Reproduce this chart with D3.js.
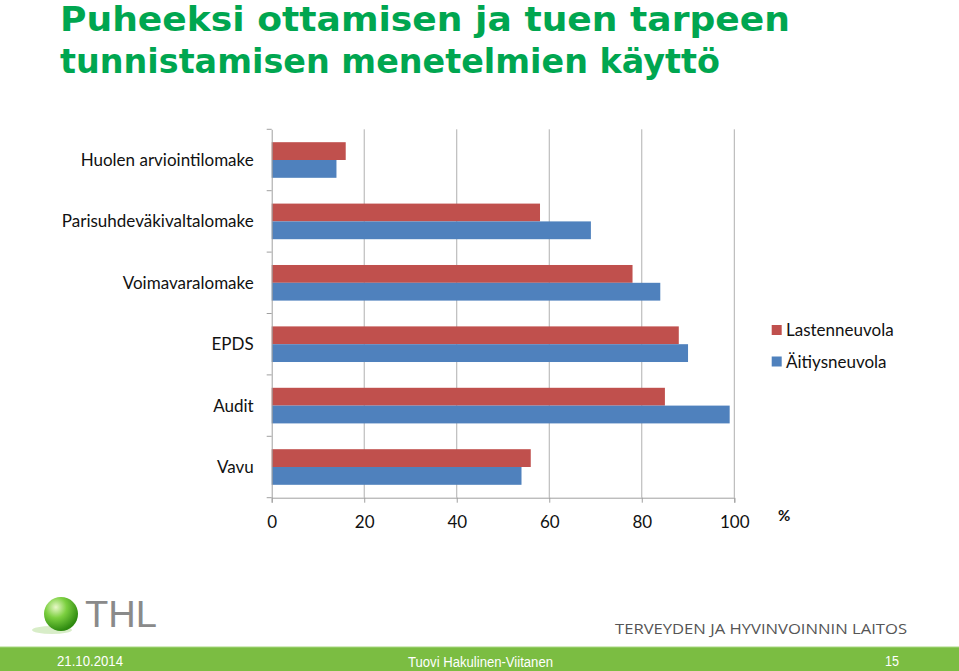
<!DOCTYPE html>
<html><head><meta charset="utf-8">
<script src="https://cdn.jsdelivr.net/npm/d3@7"></script>
<style>body{margin:0;background:#fff}svg{display:block}</style>
</head><body>
<script>
const categories = ["Huolen arviointilomake","Parisuhdeväkivaltalomake","Voimavaralomake","EPDS","Audit","Vavu"];
const seriesNames = ["Lastenneuvola","Äitiysneuvola"];
const lastenneuvola = [16,58,78,88,85,56];
const aitiysneuvola = [14,69,84,90,99,54];
const xTicks = [0,20,40,60,80,100];
const colors = ["#c0504d","#4f81bd"];
const titleLines = ["Puheeksi ottamisen ja tuen tarpeen","tunnistamisen menetelmien käyttö"];

const W=959,H=671;
const svg=d3.select("body").append("svg").attr("width",W).attr("height",H);
const font="Lato, 'Open Sans', sans-serif";

// title
svg.selectAll("text.title").data(titleLines).enter().append("text")
 .attr("x",60).attr("y",(d,i)=>31+i*42)
 .attr("font-family","'Comic Sans MS','DejaVu Sans',sans-serif").attr("font-weight","bold")
 .attr("font-size",33).attr("fill","#00a650")
 .attr("textLength",(d,i)=>i==0?730:660).attr("lengthAdjust","spacingAndGlyphs")
 .text(d=>d);

const x=d3.scaleLinear().domain([0,100]).range([271.7,734.3]);
const y=d3.scaleBand().domain(categories).range([129.3,497.7]).paddingInner(0.42).paddingOuter(0.21);
const y0=d3.scaleBand().domain(categories).range([129.3,497.7]);
const sub=d3.scaleBand().domain(seriesNames).range([0,y.bandwidth()]);

// gridlines
svg.append("g").selectAll("line").data(xTicks.slice(1)).enter().append("line")
 .attr("x1",d=>x(d)).attr("x2",d=>x(d)).attr("y1",129.3).attr("y2",497.7)
 .attr("stroke","#b0b0b0").attr("stroke-width",1);

const data=categories.map((c,i)=>({c,vals:[lastenneuvola[i],aitiysneuvola[i]]}));
const g=svg.append("g");
data.forEach(d=>{
  d.vals.forEach((v,j)=>{
    g.append("rect").attr("x",x(0)).attr("y",y(d.c)+sub(seriesNames[j]))
     .attr("width",x(v)-x(0)).attr("height",sub.bandwidth()).attr("fill",colors[j]);
  });
});

// x axis
const xa=svg.append("g").attr("transform","translate(0,497.7)")
 .call(d3.axisBottom(x).tickValues(xTicks).tickSize(5).tickPadding(13));
xa.select(".domain").attr("stroke","#a0a0a0");
xa.selectAll(".tick line").attr("stroke","#a0a0a0");
xa.selectAll("text").attr("font-family",font).attr("font-size",17).attr("fill","#111");

// y axis
const ya=svg.append("g").attr("transform","translate(271.7,0)")
 .call(d3.axisLeft(y0).tickValues([]).tickSize(0));
ya.select(".domain").attr("stroke","#a0a0a0");
const bounds=[129.3,...categories.map(c=>y0(c)+y0.bandwidth())];
ya.selectAll("line.t").data(bounds).enter().append("line").attr("class","t")
 .attr("x1",-5).attr("x2",0).attr("y1",d=>d).attr("y2",d=>d).attr("stroke","#a0a0a0");
ya.selectAll("text.lab").data(categories).enter().append("text").attr("class","lab")
 .attr("x",-18).attr("y",d=>y0(d)+y0.bandwidth()/2).attr("dy","0.35em")
 .attr("text-anchor","end").attr("font-family",font).attr("font-size",17).attr("fill","#111")
 .text(d=>d);

// percent label
svg.append("text").attr("x",778).attr("y",521).attr("font-family",font).attr("font-weight","bold")
 .attr("font-size",15).attr("fill","#111").text("%");

// legend
const lg=svg.append("g");
seriesNames.forEach((s,i)=>{
  lg.append("rect").attr("x",771.7).attr("y",325+i*31.5).attr("width",10).attr("height",10).attr("fill",colors[i]);
  lg.append("text").attr("x",786).attr("y",336+i*31.5).attr("font-family",font).attr("font-size",17)
   .attr("fill","#111").text(s);
});

// footer logo
const defs=svg.append("defs");
const rg=defs.append("radialGradient").attr("id","ball").attr("cx","35%").attr("cy","30%").attr("r","70%");
rg.append("stop").attr("offset","0%").attr("stop-color","#e8f8c8");
rg.append("stop").attr("offset","45%").attr("stop-color","#7cd040");
rg.append("stop").attr("offset","100%").attr("stop-color","#2e8a10");
svg.append("ellipse").attr("cx",52).attr("cy",630).attr("rx",20).attr("ry",4).attr("fill","#c8e6b0").attr("opacity",0.7);
svg.append("circle").attr("cx",61).attr("cy",614).attr("r",17).attr("fill","url(#ball)");
svg.append("text").attr("x",85).attr("y",627).attr("font-family","'Liberation Sans',Arial,sans-serif")
 .attr("font-size",37).attr("fill","#8a8a8a").attr("textLength",72).attr("lengthAdjust","spacingAndGlyphs").text("THL");
svg.append("text").attr("x",615).attr("y",634).attr("font-family","'Open Sans',sans-serif")
 .attr("font-size",15).attr("fill","#555").attr("textLength",292).attr("lengthAdjust","spacingAndGlyphs")
 .text("TERVEYDEN JA HYVINVOINNIN LAITOS");

// green band
svg.append("rect").attr("x",0).attr("y",647).attr("width",W).attr("height",H-647).attr("fill","#7bbd42");
svg.append("line").attr("x1",0).attr("x2",W).attr("y1",647).attr("y2",647).attr("stroke","#a8d880");
const ff="'Liberation Sans',Arial,sans-serif";
svg.append("text").attr("x",57).attr("y",666).attr("font-family",ff).attr("font-size",14).attr("fill","#fff")
 .attr("textLength",66).attr("lengthAdjust","spacingAndGlyphs").text("21.10.2014");
svg.append("text").attr("x",408).attr("y",667).attr("font-family",ff).attr("font-size",14).attr("fill","#fff")
 .attr("textLength",145).attr("lengthAdjust","spacingAndGlyphs").text("Tuovi Hakulinen-Viitanen");
svg.append("text").attr("x",885).attr("y",666).attr("font-family",ff).attr("font-size",14).attr("fill","#fff")
 .attr("textLength",14).attr("lengthAdjust","spacingAndGlyphs").text("15");
</script>
</body></html>
